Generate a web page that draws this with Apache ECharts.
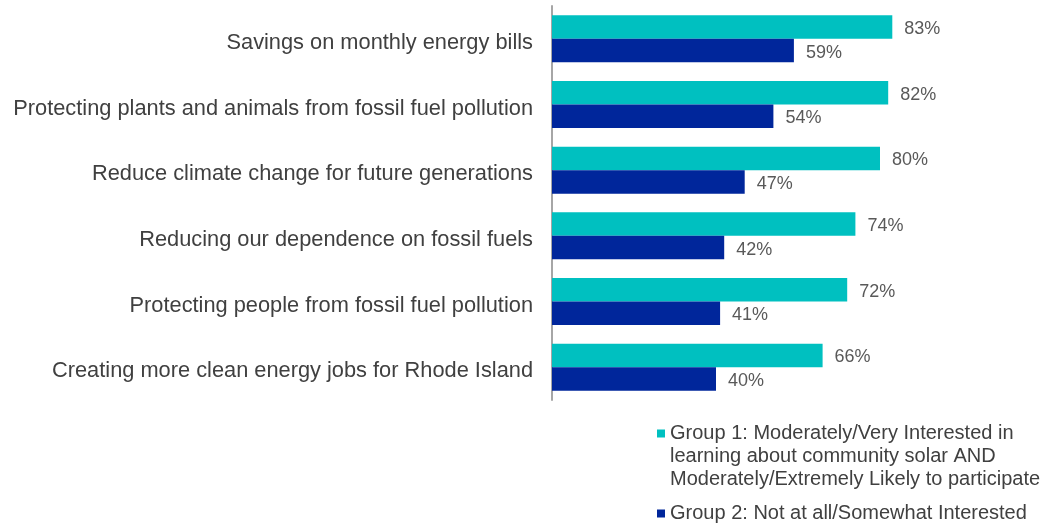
<!DOCTYPE html>
<html>
<head>
<meta charset="utf-8">
<style>
  html, body { margin: 0; padding: 0; background: #ffffff; }
  #chart { width: 1049px; height: 527px; }
</style>
<script src="https://cdn.jsdelivr.net/npm/echarts@6/dist/echarts.min.js"></script>
</head>
<body>
<div id="chart"></div>
<script>
// Reasons for interest in community solar, by respondent group (% citing)
var categories = [
  'Savings on monthly energy bills',
  'Protecting plants and animals from fossil fuel pollution',
  'Reduce climate change for future generations',
  'Reducing our dependence on fossil fuels',
  'Protecting people from fossil fuel pollution',
  'Creating more clean energy jobs for Rhode Island'
];
var group1Name = 'Group 1: Moderately/Very Interested in\nlearning about community solar AND\nModerately/Extremely Likely to participate';
var group2Name = 'Group 2: Not at all/Somewhat Interested';
var group1Values = [83, 82, 80, 74, 72, 66];
var group2Values = [59, 54, 47, 42, 41, 40];

var FONT = '"Liberation Sans", Arial, Helvetica, sans-serif';
var TEAL = '#00C0C0';
var NAVY = '#00269B';

var chart = echarts.init(document.getElementById('chart'), null, { renderer: 'canvas' });

var valueLabel = {
  show: true,
  position: 'right',
  distance: 12,
  offset: [0, 2],
  fontFamily: FONT,
  fontSize: 18,
  color: '#595959',
  formatter: function (p) { return p.value + '%'; }
};

var legendText = {
  fontFamily: FONT,
  fontSize: 20,
  lineHeight: 23,
  color: '#404040'
};

chart.setOption({
  animation: false,
  backgroundColor: '#ffffff',
  grid: { left: 552, top: 6, width: 410, height: 394, containLabel: false },
  xAxis: {
    type: 'value',
    min: 0,
    max: 100,
    show: false
  },
  yAxis: {
    type: 'category',
    data: categories,
    inverse: true,
    axisLine: { show: true, lineStyle: { color: '#A6A6A6', width: 2 } },
    axisTick: { show: false },
    axisLabel: {
      margin: 19,
      // top-aligned short line box sits each label slightly below the band centre
      verticalAlign: 'top',
      lineHeight: 8,
      fontFamily: FONT,
      fontSize: 21.8,
      color: '#404040'
    },
    splitLine: { show: false }
  },
  legend: [
    {
      // two leading blank lines keep the swatch level with the first text line
      data: [group1Name],
      formatter: function (name) { return '\n\n' + name; },
      left: 657,
      top: 376,
      padding: 0,
      icon: 'rect',
      itemWidth: 8,
      itemHeight: 8,
      selectedMode: false,
      textStyle: legendText
    },
    {
      data: [group2Name],
      left: 657,
      top: 502,
      padding: 0,
      icon: 'rect',
      itemWidth: 8,
      itemHeight: 8,
      selectedMode: false,
      textStyle: legendText
    }
  ],
  series: [
    {
      name: group1Name,
      type: 'bar',
      data: group1Values,
      itemStyle: { color: TEAL },
      barWidth: 23.5,
      barGap: '0%',
      label: valueLabel
    },
    {
      name: group2Name,
      type: 'bar',
      data: group2Values,
      itemStyle: { color: NAVY },
      barWidth: 23.5,
      barGap: '0%',
      label: valueLabel
    }
  ]
});
</script>
</body>
</html>
